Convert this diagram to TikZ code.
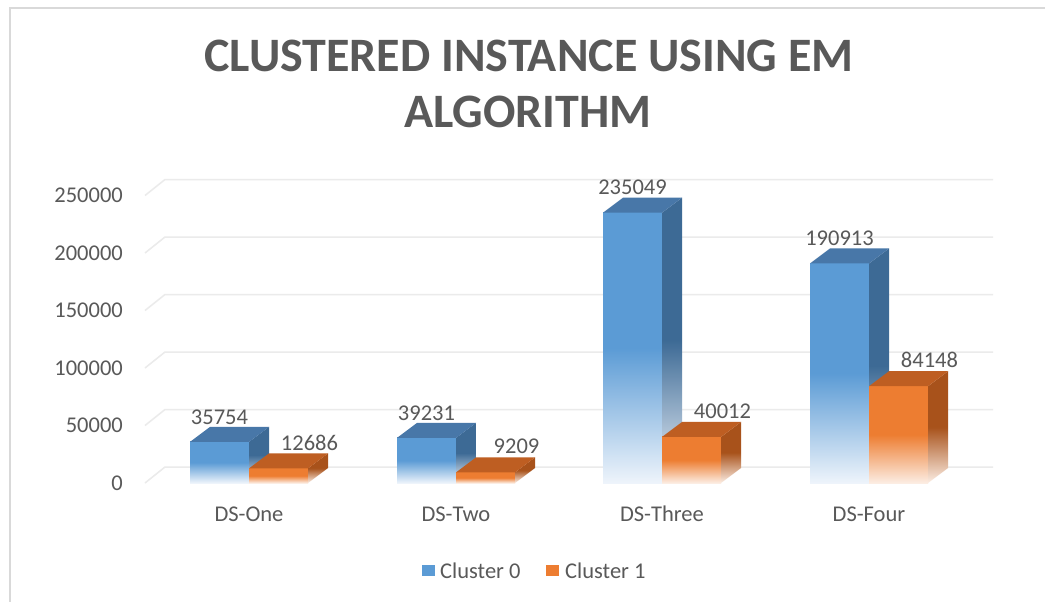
\documentclass[tikz,border=0pt]{standalone}
\usepackage{fontspec}
\setmainfont{Carlito}
\definecolor{txt}{HTML}{595959}
\definecolor{gridc}{HTML}{EBEBEB}
\definecolor{framec}{HTML}{D9D9D9}
\definecolor{bluef}{HTML}{5B9BD5}
\definecolor{blues}{HTML}{3D6A95}
\definecolor{bluet}{HTML}{4877A8}
\definecolor{bluep}{HTML}{EEF4FB}
\definecolor{orangef}{HTML}{ED7D31}
\definecolor{oranges}{HTML}{A8521B}
\definecolor{oranget}{HTML}{BE5E22}
\definecolor{orangep}{HTML}{FCEDE3}
% #3 = value in thousands
\newcommand\mybarthree[7]{%
  \pgfmathsetmacro\yt{483-#3/50*57.5}%
  \shade[top color=#4, bottom color=#7, middle color=#4] (#1,483) rectangle (#2,\yt);
  \shade[top color=#5, bottom color=#7, middle color=#5] (#2,483) -- (#2+20,468) -- (#2+20,\yt-15) -- (#2,\yt) -- cycle;
  \fill[#6] (#1,\yt) -- (#1+20,\yt-15) -- (#2+20,\yt-15) -- (#2,\yt) -- cycle;
}
\begin{document}
\begin{tikzpicture}[x=1pt,y=-1pt,
  lbl/.style={text=txt, font=\fontsize{22.5}{27}\selectfont, inner sep=0pt},
  gridline/.style={draw=gridc, line width=1.5pt},
  ttl/.style={text=txt, font=\fontsize{48}{56}\selectfont\bfseries, inner sep=0pt, anchor=base}]
\useasboundingbox (0,0) rectangle (1045,602);
\fill[white] (0,0) rectangle (1045,602);
\draw[framec, line width=2pt] (10,602) -- (10,8) -- (1045,8);
% title
\node[ttl] (title1) at (529,72) {CLUSTERED INSTANCE USING EM};
\node[ttl] (title2) at (528,128) {ALGORITHM};
% grid and axis labels
\foreach \s/\t [count=\k] in {0/0,1/50000,2/100000,3/150000,4/200000,5/250000} {
  \pgfmathsetmacro\yf{483-\s*57.5}
  \draw[gridline] (145,\yf) -- (165,\yf-16) -- (993,\yf-16);
  \node[lbl, anchor=east] (ax\k) at (123,\yf) {\t};
}
% bars
\foreach \x/\a/\la/\b/\lb/\n [count=\i] in {190/35.754/35754/12.686/12686/DS-One, 397/39.231/39231/9.209/9209/DS-Two, 603/235.049/235049/40.012/40012/DS-Three, 810/190.913/190913/84.148/84148/DS-Four} {
  \pgfmathsetmacro\xm{\x+59}
  \pgfmathsetmacro\xr{\x+118}
  \mybarthree{\x}{\xm}{\a}{bluef}{blues}{bluet}{bluep}
  \mybarthree{\xm}{\xr}{\b}{orangef}{oranges}{oranget}{orangep}
  \pgfmathsetmacro\ya{483-\a/50*57.5-25}
  \pgfmathsetmacro\yb{483-\b/50*57.5-26}
  \node[lbl] (ca\i) at (\x+29.5,\ya) {\la};
  \node[lbl] (cb\i) at (\xm+29.5+31,\yb) {\lb};
  \node[lbl] (cat\i) at (\xm,514) {\n};
}
% legend
\fill[bluef] (422,565) rectangle (435,576);
\node[lbl, anchor=west] (leg0) at (440,571) {Cluster 0};
\fill[orangef] (546,565) rectangle (559,576);
\node[lbl, anchor=west] (leg1) at (565,571) {Cluster 1};
\end{tikzpicture}
\end{document}
